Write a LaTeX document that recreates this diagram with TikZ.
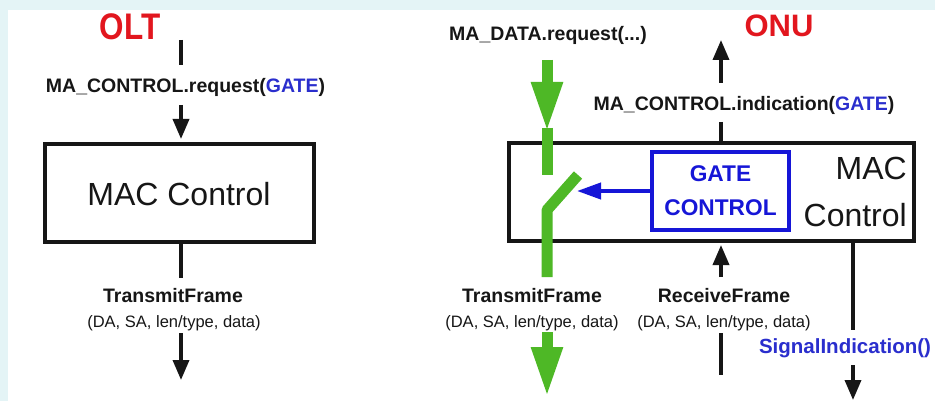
\documentclass[tikz,border=0pt]{standalone}
\usepackage{fontspec}
\setmainfont{Liberation Sans}
\usetikzlibrary{arrows.meta}
\definecolor{stripbg}{RGB}{228,244,246}
\definecolor{olred}{RGB}{226,22,30}
\definecolor{gateblue}{RGB}{22,22,215}
\definecolor{txtblue}{RGB}{42,46,205}
\definecolor{flowgreen}{RGB}{78,184,38}
\definecolor{ink}{RGB}{22,22,22}
\begin{document}
\begin{tikzpicture}[x=1pt,y=-1pt,
  lbl/.style={inner sep=0pt,anchor=base,font=\fontsize{19.5}{22}\selectfont\bfseries,text=ink},
  sub/.style={inner sep=0pt,anchor=base,font=\fontsize{16.5}{19}\selectfont,text=ink},
  title/.style={inner sep=0pt,anchor=base,font=\fontsize{31}{34}\selectfont\bfseries,text=olred},
  bigtxt/.style={inner sep=0pt,font=\fontsize{32}{36}\selectfont,text=ink},
  macbox/.style={draw=ink,line width=4pt,inner sep=0pt},
  gatebox/.style={draw=gateblue,line width=4.5pt,inner sep=0pt,align=center,
    text=gateblue,font=\fontsize{22.7}{34}\selectfont\bfseries},
  wire/.style={draw=ink,line width=3.5pt},
  wirearrow/.style={wire,-{Triangle[length=20pt,width=16pt]}},
  gflow/.style={draw=flowgreen,line width=11pt},
  garrow/.style={gflow,-{Triangle[length=50pt,width=29pt]}},
  ctlarrow/.style={draw=gateblue,line width=4pt,-{Triangle[length=24pt,width=16pt]}},
]
\useasboundingbox (0,0) rectangle (935,401);
% page backdrop
\fill[stripbg] (0,0) rectangle (935,401);
\fill[white] (8,10) rectangle (935,401);

% ---------------- OLT side ----------------
\node[title] (olt) at (130,40) {\fontsize{37}{40}\selectfont\scalebox{0.85}[1]{OLT}};
\coordinate (oltA) at (181,40);
\coordinate (oltB) at (181,65);
\draw[wire] (oltA) -- (oltB);
\node[lbl] (reqL) at (185.5,93) {MA\_CONTROL.request(\textcolor{txtblue}{GATE})};
\node[macbox,minimum width=269pt,minimum height=98pt] (macL) at (179.5,193) {};
\node[bigtxt,anchor=base] (macLtxt) at (179,205) {MAC Control};
\coordinate (reqA) at (181,105);
\draw[wirearrow,shorten >=3pt] (reqA) -- (reqA |- macL.north);
\coordinate (txLA) at (181,278);
\draw[wire] (macL.south -| txLA) -- (txLA);
\node[lbl] (tfL) at (173,302) {TransmitFrame};
\node[sub] (tfLsub) at (174,327) {(DA, SA, len/type, data)};
\coordinate (txLB) at (181,333);
\coordinate (txLC) at (181,380);
\draw[wirearrow] (txLB) -- (txLC);

% ---------------- ONU side ----------------
\node[title] (onu) at (779,37) {ONU};
\node[lbl] (dataReq) at (548,41) {MA\_DATA.request(...)};
\node[lbl] (ctlInd) at (744,111) {MA\_CONTROL.indication(\textcolor{txtblue}{GATE})};

\node[macbox,minimum width=405pt,minimum height=98pt] (macR) at (711.5,192) {};
\node[gatebox,minimum width=137pt,minimum height=78pt] (gate) at (720.5,191) {GATE\\CONTROL};
\node[bigtxt,anchor=base east] (macR1) at (907,180) {MAC};
\node[bigtxt,anchor=base east] (macR2) at (907,226) {Control};

% data path with the gate switch
\coordinate (gA) at (547,60);
\coordinate (gB) at (547,132);
\draw[garrow] (gA) -- (gB);
\coordinate (gC) at (547,128);
\coordinate (gD) at (547,175);
\draw[gflow] (gC) -- (gD);
\coordinate (swBot) at (547,277);
\coordinate (swKnee) at (547,210);
\coordinate (swTop) at (578,175);
\draw[gflow,line join=bevel] (swBot) -- (swKnee) -- (swTop);
\coordinate (gE) at (547,332);
\coordinate (gF) at (547,397);
\draw[garrow] (gE) -- (gF);
\coordinate (swTip) at (577,191);
\draw[ctlarrow] (gate.west) -- (swTip);

% control indication upward
\coordinate (indA) at (721,83);
\coordinate (indB) at (721,40);
\draw[wirearrow] (indA) -- (indB);
\coordinate (indC) at (721,122);
\draw[wire] (indC) -- (indC |- macR.north);

% receive path
\coordinate (rxA) at (721,277);
\draw[wirearrow,shorten >=2pt] (rxA) -- (rxA |- macR.south);
\coordinate (rxB) at (721,333);
\coordinate (rxC) at (721,375);
\draw[wire] (rxB) -- (rxC);

\node[lbl] (tfR) at (532,302) {TransmitFrame};
\node[sub] (tfRsub) at (532,327) {(DA, SA, len/type, data)};
\node[lbl] (rfR) at (724,302) {ReceiveFrame};
\node[sub] (rfRsub) at (724,327) {(DA, SA, len/type, data)};

% signal indication
\coordinate (sigA) at (853,330);
\draw[wire] (macR.south -| sigA) -- (sigA);
\node[lbl,text=txtblue,font=\fontsize{20.5}{23}\selectfont\bfseries] (sig) at (845,353) {SignalIndication()};
\coordinate (sigB) at (853,365);
\coordinate (sigC) at (853,400);
\draw[wirearrow] (sigB) -- (sigC);
\end{tikzpicture}
\end{document}
